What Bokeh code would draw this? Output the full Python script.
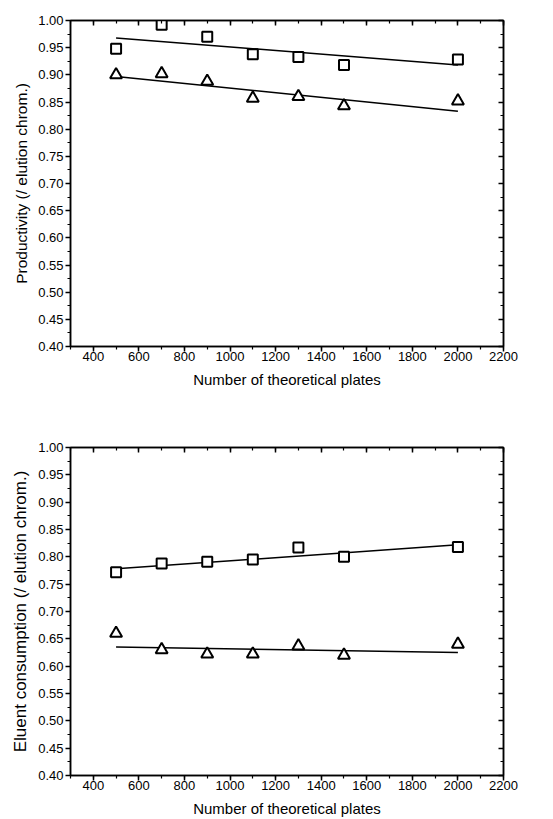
from bokeh.plotting import figure
from bokeh.layouts import column
from bokeh.models import LinearAxis, Range1d, FixedTicker, PrintfTickFormatter, CustomJSTickFormatter
from bokeh.embed import file_html
from bokeh.resources import INLINE

plates = [500, 700, 900, 1100, 1300, 1500, 2000]

prod_square = [0.948, 0.992, 0.970, 0.938, 0.933, 0.918, 0.928]
prod_triangle = [0.900, 0.902, 0.888, 0.857, 0.860, 0.843, 0.852]
prod_fit_x = [500, 2000]
prod_fit_square = [0.968, 0.918]
prod_fit_triangle = [0.897, 0.833]

elu_square = [0.772, 0.788, 0.791, 0.795, 0.817, 0.800, 0.818]
elu_triangle = [0.660, 0.630, 0.622, 0.622, 0.637, 0.620, 0.640]
elu_fit_x = [500, 2000]
elu_fit_square = [0.778, 0.822]
elu_fit_triangle = [0.635, 0.625]

x_ticks = [400, 600, 800, 1000, 1200, 1400, 1600, 1800, 2000, 2200]
y_ticks = [0.40, 0.45, 0.50, 0.55, 0.60, 0.65, 0.70, 0.75, 0.80, 0.85, 0.90, 0.95, 1.00]
x_minor = list(range(300, 2201, 100))
y_minor = [round(0.40 + 0.025 * i, 3) for i in range(25)]

FONT = "Liberation Sans"


def style_axis(ax, label_size="14px"):
    ax.axis_line_width = 1.5
    ax.axis_line_color = "black"
    ax.major_tick_line_width = 1.5
    ax.minor_tick_line_width = 1.2
    ax.major_tick_line_color = "black"
    ax.minor_tick_line_color = "black"
    ax.major_label_text_font = FONT
    ax.major_label_text_font_size = "13px"
    ax.major_label_text_color = "black"
    ax.axis_label_text_font = FONT
    ax.axis_label_text_font_size = label_size
    ax.axis_label_text_font_style = "normal"
    ax.axis_label_text_color = "black"


def make_panel(ylabel, ysize, sq, tri, fx, fsq, ftri, height, top, bottom):
    p = figure(width=553, height=height, output_backend="svg", toolbar_location=None,
               x_range=Range1d(300, 2200), y_range=Range1d(0.40, 1.00),
               min_border_left=70, min_border_right=50,
               min_border_top=top, min_border_bottom=bottom)
    p.grid.visible = False
    p.outline_line_color = "black"
    p.outline_line_width = 1.5
    p.background_fill_color = "white"
    p.border_fill_color = "white"

    xa = p.xaxis[0]
    xa.ticker = FixedTicker(ticks=x_ticks, minor_ticks=x_minor)
    xa.axis_label = "Number of theoretical plates"
    style_axis(xa, "15px")
    xa.major_tick_out = 5
    xa.major_tick_in = 0
    xa.minor_tick_out = 3
    xa.minor_tick_in = 0
    xa.major_label_standoff = 0
    xa.axis_label_standoff = 7

    ya = p.yaxis[0]
    ya.ticker = FixedTicker(ticks=y_ticks, minor_ticks=y_minor)
    ya.axis_label = ylabel
    style_axis(ya, ysize)
    ya.major_tick_out = 5
    ya.major_tick_in = 0
    ya.minor_tick_out = 3
    ya.minor_tick_in = 0
    ya.formatter = PrintfTickFormatter(format="%.2f")
    ya.major_label_standoff = 2
    ya.axis_label_standoff = 5

    blank = CustomJSTickFormatter(code="return ''")

    ta = LinearAxis(ticker=FixedTicker(ticks=x_ticks, minor_ticks=x_minor), formatter=blank)
    style_axis(ta)
    ta.major_tick_in = 5
    ta.major_tick_out = 0
    ta.minor_tick_in = 3
    ta.minor_tick_out = 0
    ta.major_label_standoff = 0
    p.add_layout(ta, "above")

    ra = LinearAxis(ticker=FixedTicker(ticks=y_ticks, minor_ticks=y_minor), formatter=blank)
    style_axis(ra)
    ra.major_tick_in = 5
    ra.major_tick_out = 0
    ra.minor_tick_in = 3
    ra.minor_tick_out = 0
    ra.major_label_standoff = 0
    p.add_layout(ra, "right")

    p.line(fx, fsq, line_color="black", line_width=1.5)
    p.line(fx, ftri, line_color="black", line_width=1.5)
    p.scatter(plates, sq, marker="square", size=10, fill_color="white",
              line_color="black", line_width=2)
    p.scatter(plates, tri, marker="triangle", size=12, fill_color="white",
              line_color="black", line_width=2)
    return p


p1 = make_panel("Productivity (/ elution chrom.)", "15.5px", prod_square, prod_triangle,
                prod_fit_x, prod_fit_square, prod_fit_triangle, 400, 20, 54)
p2 = make_panel("Eluent consumption (/ elution chrom.)", "17px", elu_square, elu_triangle,
                elu_fit_x, elu_fit_square, elu_fit_triangle, 419, 47, 44)

p = column(p1, p2)
open("out.html", "w").write(file_html(p, INLINE))
